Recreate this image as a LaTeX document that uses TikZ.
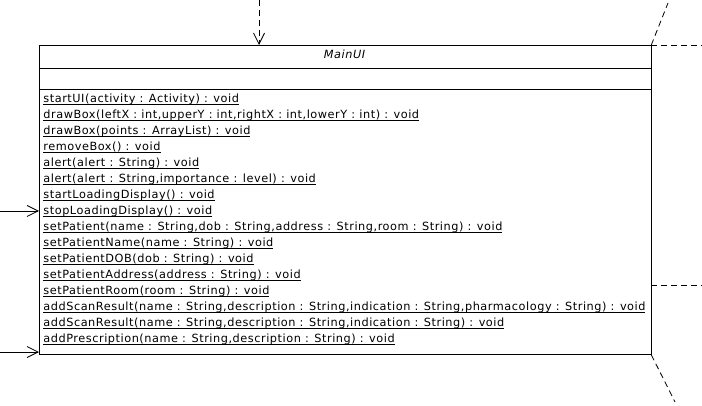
\documentclass[tikz,border=0pt]{standalone}
\usepackage{fontspec}
\setmainfont{DejaVu Sans}
\newfontfamily\umlfont[LetterSpace=4.8]{DejaVu Sans}
\usetikzlibrary{arrows.meta}
% underlined operation text
\newcommand\opline[1]{\setbox0\hbox{#1}\rlap{\rule[-2.2pt]{\wd0}{.8pt}}\box0}

\begin{document}
\begin{tikzpicture}[x=1pt,y=-1pt,line width=.8pt,
  op/.style={anchor=base west,inner sep=0pt,font=\umlfont\fontsize{11.3}{13}\selectfont},
  dep/.style={dash pattern=on 6pt off 4pt},
  barb/.style={-{Straight Barb[length=11pt,width=11pt,line width=.8pt]}}]
\useasboundingbox (0,0) rectangle (702,406);
% class box
\node[draw,anchor=north west,minimum width=611.5pt,minimum height=309pt,inner sep=0pt] (mainui) at (39,45) {};
\draw (39,68)--(650.5,68);
\draw (39,89)--(650.5,89);
\node[op,anchor=base,font=\umlfont\fontsize{11.3}{13}\selectfont\itshape] (title) at (344.5,58.7) {MainUI};
% operations
\node[op] (op1) at (43,102.5) {\opline{startUI(activity : Activity) : void}};
\node[op] (op2) at (43,118.5) {\opline{drawBox(leftX : int,upperY : int,rightX : int,lowerY : int) : void}};
\node[op] (op3) at (43,134.5) {\opline{drawBox(points : ArrayList) : void}};
\node[op] (op4) at (43,150.5) {\opline{removeBox() : void}};
\node[op] (op5) at (43,166.5) {\opline{alert(alert : String) : void}};
\node[op] (op6) at (43,182.5) {\opline{alert(alert : String,importance : level) : void}};
\node[op] (op7) at (43,198.5) {\opline{startLoadingDisplay() : void}};
\node[op] (op8) at (43,214.5) {\opline{stopLoadingDisplay() : void}};
\node[op] (op9) at (43,230.5) {\opline{setPatient(name : String,dob : String,address : String,room : String) : void}};
\node[op] (op10) at (43,246.5) {\opline{setPatientName(name : String) : void}};
\node[op] (op11) at (43,262.5) {\opline{setPatientDOB(dob : String) : void}};
\node[op] (op12) at (43,278.5) {\opline{setPatientAddress(address : String) : void}};
\node[op] (op13) at (43,294.5) {\opline{setPatientRoom(room : String) : void}};
\node[op] (op14) at (43,310.5) {\opline{addScanResult(name : String,description : String,indication : String,pharmacology : String) : void}};
\node[op] (op15) at (43,326.5) {\opline{addScanResult(name : String,description : String,indication : String) : void}};
\node[op] (op16) at (43,342.5) {\opline{addPrescription(name : String,description : String) : void}};
% connectors
\coordinate (top) at (259,0);
\coordinate (left1) at (0,211);
\coordinate (left2) at (0,352);
\coordinate (ne1) at (668,3);
\coordinate (ne2) at (702,45);
\coordinate (east) at (702,285);
\coordinate (se) at (675,402);
\draw[dep,barb] (top)--(top|-mainui.north);
\draw[barb] (left1)--(left1-|mainui.west);
\draw[barb] (left2)--(left2-|mainui.west);
\draw[dep] (mainui.north east)--(ne1);
\draw[dep] (mainui.north east)--(ne2);
\draw[dep] (east-|mainui.east)--(east);
\draw[dep] (mainui.south east)--(se);
\end{tikzpicture}
\end{document}
